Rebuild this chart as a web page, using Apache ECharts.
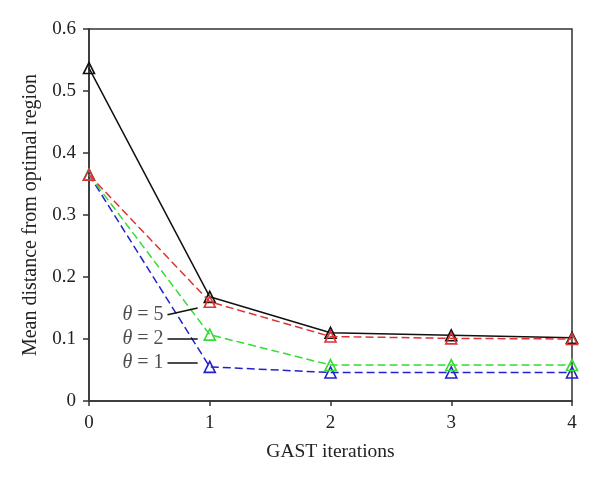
<!DOCTYPE html>
<html><head><meta charset="utf-8">
<script src="https://cdn.jsdelivr.net/npm/echarts@6/dist/echarts.min.js"></script>
<style>html,body{margin:0;padding:0;background:#fff}#c{width:600px;height:483px}</style>
</head><body><div id="c"></div>
<script>
const iterations = [0, 1, 2, 3, 4];
const theta5 = [0.537, 0.168, 0.110, 0.106, 0.102];
const theta5dash = [0.365, 0.160, 0.104, 0.101, 0.100];
const theta2 = [0.365, 0.107, 0.058, 0.058, 0.058];
const theta1 = [0.365, 0.055, 0.046, 0.046, 0.046];
const labels = ['θ = 5', 'θ = 2', 'θ = 1'];
// annotation leader lines in data coordinates: [x0,y0,x1,y1]
const leaders = [[0.65, 0.139, 0.90, 0.150], [0.65, 0.100, 0.90, 0.100], [0.65, 0.061, 0.90, 0.061]];

const font = 'Liberation Serif';
const pair = a => iterations.map((x, i) => [x, a[i]]);
function lineSeries(data, color, dashed, z) {
  return {
    type: 'line', data: pair(data), symbol: 'triangle', symbolSize: 11, z: z,
    itemStyle: { color: 'rgba(255,255,255,0)', borderColor: color, borderWidth: 1.6 },
    lineStyle: { color: color, width: 1.5, type: dashed ? [8, 4] : 'solid' },
    emphasis: { disabled: true }, animation: false
  };
}
const option = {
  animation: false,
  grid: { left: 89, right: 28, top: 29, bottom: 82, show: true, borderColor: '#333', borderWidth: 1.5, backgroundColor: 'transparent' },
  xAxis: {
    type: 'value', min: 0, max: 4, interval: 1,
    name: 'GAST iterations', nameLocation: 'middle', nameGap: 41,
    nameTextStyle: { fontFamily: font, fontSize: 19.5, color: '#222' },
    axisLine: { lineStyle: { color: '#333', width: 1.5 } },
    axisTick: { show: true, length: 5, lineStyle: { color: '#333', width: 1.5 } },
    axisLabel: { fontFamily: font, fontSize: 19, color: '#222', margin: 13 },
    splitLine: { show: false }
  },
  yAxis: {
    type: 'value', min: 0, max: 0.6, interval: 0.1,
    name: 'Mean distance from optimal region', nameLocation: 'middle', nameGap: 48,
    nameTextStyle: { fontFamily: font, fontSize: 20, color: '#222' },
    axisLine: { show: true, lineStyle: { color: '#333', width: 1.5 } },
    axisTick: { show: true, length: 6, lineStyle: { color: '#333', width: 1.5 } },
    axisLabel: { fontFamily: font, fontSize: 19, color: '#222', margin: 13, formatter: v => (Math.round(v * 10) / 10).toString() },
    splitLine: { show: false }
  },
  series: [
    lineSeries(theta1, '#2222cc', true, 2),
    lineSeries(theta2, '#33dd33', true, 3),
    lineSeries(theta5, '#111111', false, 4),
    lineSeries(theta5dash, '#dd3333', true, 5),
    {
      type: 'lines', coordinateSystem: 'cartesian2d', silent: true, z: 6,
      data: leaders.map(l => ({ coords: [[l[0], l[1]], [l[2], l[3]]] })),
      lineStyle: { color: '#111', width: 1.5, opacity: 1 }
    },
    {
      type: 'scatter', symbolSize: 0, silent: true, z: 7,
      data: leaders.map((l, i) => ({ value: [l[0], l[1]], label: { formatter: '{t|θ} = ' + labels[i].slice(-1) } })),
      label: {
        show: true, position: 'left', distance: 4, fontFamily: font, fontSize: 20, color: '#222',
        rich: { t: { fontFamily: font, fontStyle: 'italic', fontSize: 20, color: '#222' } }
      }
    }
  ]
};
const chart = echarts.init(document.getElementById('c'), null, { renderer: 'canvas' });
chart.setOption(option);
</script></body></html>
